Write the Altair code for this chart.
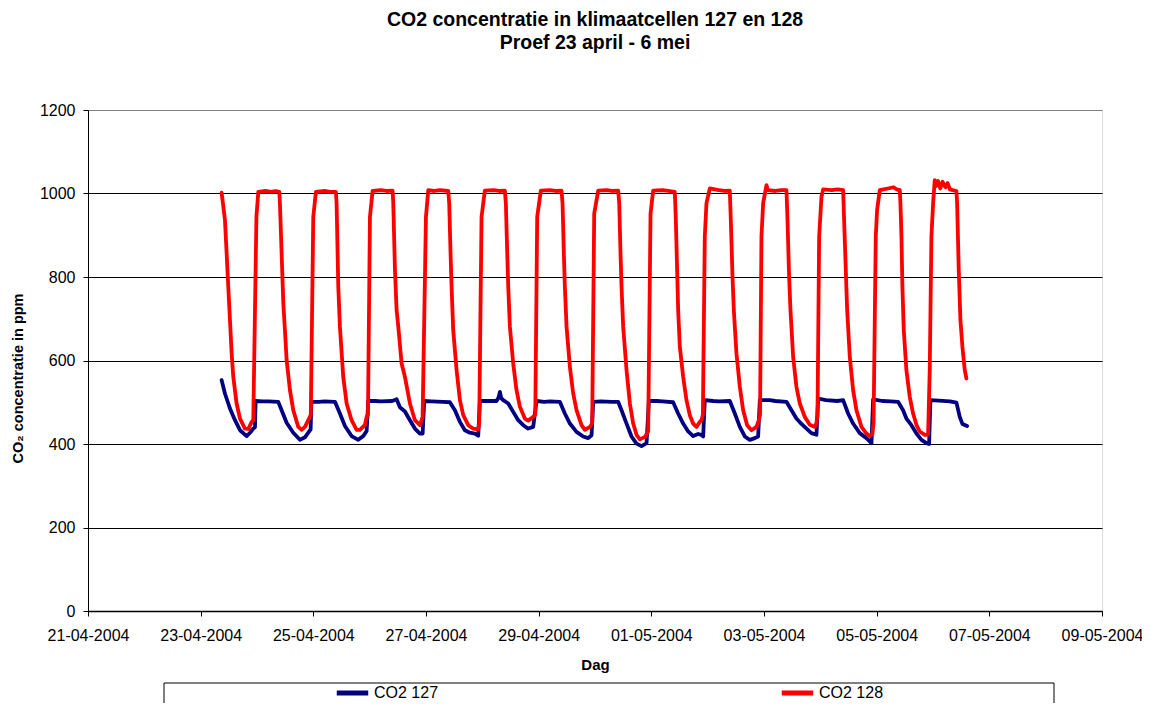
import altair as alt
import pandas as pd

# time in days after 21-04-2004 00:00, values in ppm
t127 = [2.372, 2.431, 2.520, 2.609, 2.698, 2.816, 2.875, 2.934, 2.964, 2.975,
        3.1, 3.2, 3.378, 3.437, 3.526, 3.644, 3.762, 3.851, 3.910, 3.952, 3.965,
        4.1, 4.2, 4.384, 4.472, 4.561, 4.679, 4.798, 4.886, 4.946, 4.975,
        5.1, 5.2, 5.4, 5.478, 5.537, 5.626, 5.715, 5.803, 5.892, 5.940, 5.969,
        6.1, 6.3, 6.424, 6.513, 6.602, 6.690, 6.779, 6.868, 6.927, 6.957,
        7.1, 7.252, 7.290, 7.312, 7.335, 7.371, 7.460, 7.548, 7.637, 7.726, 7.814, 7.903, 7.962,
        8.1, 8.2, 8.376, 8.465, 8.554, 8.672, 8.791, 8.879, 8.939, 8.968,
        9.1, 9.3, 9.412, 9.471, 9.560, 9.648, 9.737, 9.826, 9.915, 9.956,
        10.1, 10.2, 10.387, 10.476, 10.565, 10.654, 10.742, 10.831, 10.890, 10.920, 10.949,
        11.1, 11.2, 11.393, 11.482, 11.571, 11.659, 11.748, 11.837, 11.896, 11.926,
        12.1, 12.2, 12.399, 12.488, 12.576, 12.665, 12.754, 12.843, 12.931, 12.961,
        13.1, 13.3, 13.405, 13.493, 13.582, 13.700, 13.819, 13.908, 13.937,
        14.1, 14.25, 14.380, 14.469, 14.528, 14.617, 14.706, 14.795, 14.883, 14.931, 14.954,
        15.1, 15.3, 15.416, 15.475, 15.522, 15.605]
v127 = [553, 521, 485, 457, 433, 419, 427, 437, 440, 503,
        502, 502, 501, 481, 451, 427, 410, 416, 427, 435, 501,
        501, 502, 501, 473, 443, 419, 410, 419, 431, 503,
        503, 502, 503, 507, 488, 478, 457, 437, 425, 425, 503,
        502, 501, 500, 481, 453, 433, 427, 425, 420, 503,
        503, 503, 512, 525, 510, 505, 497, 477, 457, 445, 437, 441, 503,
        501, 502, 501, 473, 449, 429, 418, 414, 421, 501,
        502, 501, 501, 481, 449, 418, 401, 395, 402, 503,
        503, 502, 500, 473, 449, 430, 419, 424, 422, 418, 505,
        503, 502, 503, 473, 441, 418, 410, 414, 418, 505,
        505, 503, 501, 481, 461, 448, 437, 426, 422, 509,
        505, 503, 505, 473, 449, 426, 414, 402, 507,
        503, 502, 501, 481, 461, 445, 425, 410, 402, 400, 505,
        504, 502, 499, 465, 448, 443]

t128 = [2.372, 2.431, 2.461, 2.490, 2.520, 2.550, 2.579, 2.638, 2.698, 2.786, 2.845, 2.905, 2.934, 2.990, 3.023,
        3.15, 3.25, 3.33, 3.396, 3.407, 3.437, 3.467, 3.496, 3.526, 3.585, 3.644, 3.733, 3.792, 3.851, 3.910, 3.955, 3.999, 4.046,
        4.2, 4.3, 4.401, 4.413, 4.443, 4.472, 4.531, 4.591, 4.679, 4.768, 4.827, 4.916, 4.946, 4.970, 5.005, 5.052,
        5.2, 5.3, 5.407, 5.419, 5.449, 5.478, 5.508, 5.567, 5.626, 5.715, 5.803, 5.892, 5.940, 5.999, 6.040,
        6.15, 6.25, 6.395, 6.412, 6.436, 6.454, 6.483, 6.543, 6.602, 6.661, 6.750, 6.838, 6.927, 6.945, 6.986, 7.045,
        7.2, 7.3, 7.400, 7.418, 7.442, 7.460, 7.489, 7.548, 7.607, 7.667, 7.755, 7.814, 7.903, 7.940, 7.974, 8.039,
        8.2, 8.3, 8.406, 8.424, 8.447, 8.465, 8.495, 8.554, 8.613, 8.672, 8.761, 8.820, 8.909, 8.950, 8.986, 9.057,
        9.2, 9.3, 9.412, 9.430, 9.453, 9.471, 9.500, 9.560, 9.619, 9.678, 9.737, 9.796, 9.885, 9.944, 9.986, 10.033,
        10.2, 10.3, 10.417, 10.435, 10.458, 10.476, 10.506, 10.565, 10.624, 10.683, 10.742, 10.802, 10.861, 10.890, 10.915, 10.949, 10.979, 11.038,
        11.2, 11.3, 11.393, 11.411, 11.441, 11.464, 11.511, 11.571, 11.630, 11.701, 11.778, 11.866, 11.908, 11.930, 11.955, 11.985, 12.044,
        12.07, 12.2, 12.3, 12.399, 12.417, 12.446, 12.470, 12.517, 12.576, 12.636, 12.724, 12.813, 12.902, 12.931, 12.950, 12.979, 13.020, 13.050,
        13.2, 13.3, 13.405, 13.422, 13.452, 13.476, 13.523, 13.582, 13.641, 13.730, 13.819, 13.878, 13.925, 13.945, 13.984, 14.008, 14.055,
        14.2, 14.3, 14.35, 14.410, 14.422, 14.440, 14.457, 14.481, 14.528, 14.587, 14.647, 14.706, 14.765, 14.854, 14.913, 14.942, 14.972, 15.002, 15.031,
        15.06, 15.09, 15.13, 15.17, 15.22, 15.26, 15.30, 15.35, 15.416, 15.428, 15.457, 15.487, 15.522, 15.564, 15.593]
v128 = [1002, 937, 857, 777, 697, 617, 561, 497, 461, 437, 436, 453, 457, 945, 1004,
        1006, 1004, 1006, 1004, 976, 857, 737, 673, 601, 529, 481, 441, 434, 441, 457, 470, 944, 1004,
        1006, 1004, 1004, 976, 777, 681, 561, 497, 457, 434, 434, 446, 465, 470, 944, 1006,
        1008, 1006, 1007, 977, 817, 721, 681, 593, 561, 497, 457, 445, 465, 944, 1008,
        1006, 1008, 1006, 976, 857, 777, 673, 577, 505, 469, 445, 437, 435, 450, 944, 1007,
        1008, 1006, 1007, 976, 857, 777, 681, 593, 529, 489, 461, 456, 465, 470, 944, 1007,
        1008, 1006, 1007, 976, 857, 777, 681, 585, 521, 481, 445, 434, 441, 450, 952, 1007,
        1008, 1006, 1007, 976, 857, 777, 681, 577, 497, 449, 422, 411, 417, 430, 952, 1007,
        1008, 1006, 1004, 937, 817, 721, 633, 561, 505, 469, 449, 441, 453, 457, 470, 897, 977, 1012,
        1008, 1006, 1007, 937, 801, 721, 617, 537, 481, 445, 433, 441, 457, 470, 897, 977, 1020,
        1008, 1006, 1008, 1008, 937, 801, 721, 609, 537, 497, 465, 446, 441, 450, 470, 897, 992, 1010,
        1008, 1010, 1008, 937, 817, 721, 609, 529, 481, 441, 425, 419, 425, 450, 897, 961, 1008,
        1012, 1015, 1010, 1008, 977, 897, 777, 673, 577, 513, 473, 446, 430, 422, 422, 577, 897, 977, 1032,
        1018, 1030, 1012, 1028, 1015, 1025, 1010, 1008, 1006, 977, 817, 697, 633, 577, 557]

series = ["CO2 127", "CO2 128"]
colors = ["#000080", "#FF0000"]
y_ticks = [0, 200, 400, 600, 800, 1000, 1200]
x_tick_days = [(2004, 4, 21), (2004, 4, 23), (2004, 4, 25), (2004, 4, 27), (2004, 4, 29),
               (2004, 5, 1), (2004, 5, 3), (2004, 5, 5), (2004, 5, 7), (2004, 5, 9)]

base = pd.Timestamp("2004-04-21")
df = pd.concat([
    pd.DataFrame({"tijd": base + pd.to_timedelta(t127, unit="D"), "ppm": v127, "serie": series[0]}),
    pd.DataFrame({"tijd": base + pd.to_timedelta(t128, unit="D"), "ppm": v128, "serie": series[1]}),
])
df["tijd"] = df["tijd"].dt.strftime("%Y-%m-%dT%H:%M:%S")

FONT = "Liberation Sans"
tick_dt = [alt.DateTime(year=y, month=m, date=d) for (y, m, d) in x_tick_days]

lines = alt.Chart(df).mark_line(strokeWidth=3.8, strokeJoin="round", strokeCap="round").encode(
    x=alt.X("tijd:T",
            scale=alt.Scale(domain=[tick_dt[0], tick_dt[-1]]),
            axis=alt.Axis(title="Dag", format="%d-%m-%Y", values=tick_dt, grid=False,
                          labelFontSize=16, labelFont=FONT, labelColor="black",
                          labelPadding=11, labelFlush=False, labelOverlap=False,
                          tickColor="black", tickSize=5, domainColor="black", domainWidth=1.5,
                          titleFont=FONT, titleFontSize=15, titleFontWeight="bold",
                          titleColor="black", titlePadding=14)),
    y=alt.Y("ppm:Q",
            scale=alt.Scale(domain=[0, 1200], nice=False),
            axis=alt.Axis(title="CO₂ concentratie in ppm", values=y_ticks, grid=True, format="d",
                          gridColor={"condition": {"test": "datum.value === 1200", "value": "#808080"},
                                     "value": "black"},
                          gridWidth=1,
                          labelFontSize=16, labelFont=FONT, labelColor="black", labelPadding=8,
                          tickColor="black", tickSize=5, domainColor="black", domainWidth=1,
                          titleFont=FONT, titleFontSize=14.5, titleFontWeight="bold",
                          titleColor="black", titleX=-70, titleY=268, titleBaseline="middle",
                          titleAngle=270)),
    color=alt.Color("serie:N",
                    scale=alt.Scale(domain=series, range=colors),
                    legend=alt.Legend(title=None, orient="none", legendX=256.5, legendY=575,
                                      direction="horizontal", columns=2, columnPadding=333,
                                      symbolType="M-3,0H3", symbolSize=110, symbolStrokeWidth=5,
                                      labelFontSize=16, labelFont=FONT, labelColor="black",
                                      labelOffset=13.5, padding=0)),
)

legend_box = alt.Chart(pd.DataFrame({"k": [0]})).mark_rect(
    filled=False, stroke="black", strokeWidth=1
).encode(x=alt.value(76), x2=alt.value(966), y=alt.value(573), y2=alt.value(640))

chart = alt.layer(legend_box, lines).properties(
    width=1014, height=501,
    title=alt.Title(["CO2 concentratie in klimaatcellen 127 en 128", "Proef 23 april - 6 mei"],
                    font=FONT, fontSize=19.5, fontWeight="bold", color="black",
                    anchor="middle", offset=49, lineHeight=23),
    autosize=alt.AutoSizeParams(type="none"),
    padding={"left": 80, "top": 102, "right": 40, "bottom": 92},
).configure_view(stroke="#808080", strokeWidth=2).configure(background="white")

chart.save("out.html", embed_options={"renderer": "svg", "actions": False})
